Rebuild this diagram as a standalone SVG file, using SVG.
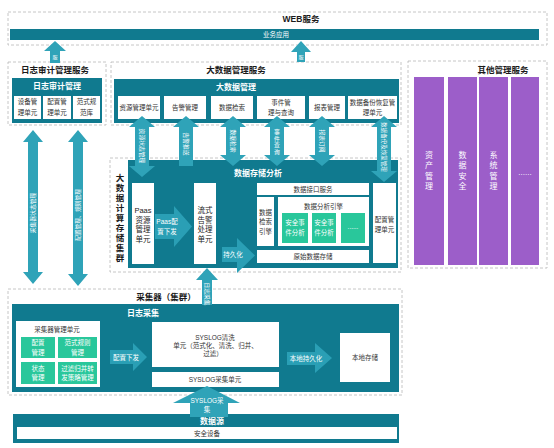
<svg xmlns="http://www.w3.org/2000/svg" width="554" height="448" viewBox="0 0 554 448">
<style>
text{font-family:"Liberation Sans","Noto Sans CJK SC",sans-serif;text-anchor:middle;dominant-baseline:central}
.dash{fill:#fff;stroke:#b8b8b8;stroke-width:0.8;stroke-dasharray:3,2}
.teal{fill:#107a8f}
.wb{fill:#fff}
.grn{fill:#29c79b}
.pur{fill:#9c5ec9}
.arr{fill:#2fa3b8}
.arr2{fill:#2a9fb5}
.ttl{font-size:8.5px;font-weight:bold;fill:#1a1a1a}
.wt{font-size:8px;font-weight:bold;fill:#fff}
.t{font-size:6.5px;fill:#333}
.tw{font-size:6.5px;fill:#fff}
.ta{font-size:5.8px;fill:#fff}
.tv{font-size:7.5px;fill:#222}
.pv{font-size:8px;fill:#fff}
</style>
<rect width="554" height="448" fill="#fff"/>

<g id="web">
<rect class="dash" x="8" y="12" width="539" height="33"/>
<text class="ttl" x="301" y="19">WEB服务</text>
<rect class="teal" x="10" y="29" width="529" height="11"/>
<text class="tw" x="276" y="34.5">业务应用</text>
</g>

<g id="logaudit">
<rect class="dash" x="8" y="62" width="98" height="63"/>
<text class="ttl" x="55" y="70">日志审计管理服务</text>
<rect class="teal" x="12" y="78" width="90" height="45"/>
<text class="wt" x="57" y="86">日志审计管理</text>
<rect class="wb" x="14" y="96" width="27" height="23"/>
<text class="t" x="27.5" y="101.5">设备管</text><text class="t" x="27.5" y="112">理单元</text>
<rect class="wb" x="43" y="96" width="28" height="23"/>
<text class="t" x="57" y="101.5">配置管</text><text class="t" x="57" y="112">理单元</text>
<rect class="wb" x="73" y="96" width="27" height="23"/>
<text class="t" x="86.5" y="101.5">范式规</text><text class="t" x="86.5" y="112">范库</text>
</g>

<g id="bigdata-mgmt">
<rect class="dash" x="111" y="62" width="290" height="63"/>
<text class="ttl" x="236" y="70">大数据管理服务</text>
<rect class="teal" x="114" y="79" width="285" height="44"/>
<text class="wt" x="236" y="87">大数据管理</text>
<rect class="wb" x="118" y="96" width="42" height="23"/>
<text class="t" x="139" y="107.5">资源管理单元</text>
<rect class="wb" x="164" y="96" width="42" height="23"/>
<text class="t" x="185" y="107.5">告警管理</text>
<rect class="wb" x="211" y="96" width="42" height="23"/>
<text class="t" x="232" y="107.5">数据检索</text>
<rect class="wb" x="257" y="96" width="48" height="23"/>
<text class="t" x="281" y="102">事件管</text><text class="t" x="281" y="112.5">理与查询</text>
<rect class="wb" x="309" y="96" width="36" height="23"/>
<text class="t" x="327" y="107.5">报表管理</text>
<rect class="wb" x="348" y="96" width="49" height="23"/>
<text class="t" x="372.5" y="102">数据备份恢复管</text><text class="t" x="372.5" y="112.5">理单元</text>
</g>

<g id="other-mgmt">
<rect class="dash" x="408" y="61" width="139" height="207"/>
<text class="ttl" x="503" y="70">其他管理服务</text>
<rect class="pur" x="414" y="77" width="30" height="188"/>
<rect class="pur" x="448" y="77" width="29" height="188"/>
<rect class="pur" x="479" y="77" width="29" height="188"/>
<rect class="pur" x="511" y="77" width="28" height="188"/>
<text class="pv" x="429" y="155">资</text><text class="pv" x="429" y="165.5">产</text><text class="pv" x="429" y="176">管</text><text class="pv" x="429" y="186.5">理</text>
<text class="pv" x="462.5" y="155">数</text><text class="pv" x="462.5" y="165.5">据</text><text class="pv" x="462.5" y="176">安</text><text class="pv" x="462.5" y="186.5">全</text>
<text class="pv" x="493.5" y="155">系</text><text class="pv" x="493.5" y="165.5">统</text><text class="pv" x="493.5" y="176">管</text><text class="pv" x="493.5" y="186.5">理</text>
<text class="pv" x="525" y="172">......</text>
</g>

<g id="cluster">
<rect class="dash" x="110" y="158" width="291" height="114"/>
<g class="ttl">
<text x="120" y="178">大</text><text x="120" y="188">数</text><text x="120" y="198">据</text><text x="120" y="208">计</text><text x="120" y="218">算</text><text x="120" y="228">存</text><text x="120" y="238">储</text><text x="120" y="248">集</text><text x="120" y="258">群</text>
</g>
<rect class="teal" x="128" y="160" width="270" height="108"/>
<text class="wt" x="258" y="173">数据存储分析</text>
</g>

<g id="paas">
<rect class="wb" x="132" y="183" width="22" height="81"/>
<text class="tv" x="143" y="210">Paas</text><text class="tv" x="143" y="220">资源</text><text class="tv" x="143" y="229.5">管理</text><text class="tv" x="143" y="239">单元</text>
</g>
<g id="stream">
<rect class="wb" x="194" y="183" width="22" height="81"/>
<text class="tv" x="205" y="210">流式</text><text class="tv" x="205" y="220">告警</text><text class="tv" x="205" y="229.5">处理</text><text class="tv" x="205" y="239">单元</text>
</g>
<g id="api">
<rect class="wb" x="257" y="183" width="112" height="12"/>
<text class="t" x="313" y="189">数据接口服务</text>
</g>
<g id="search-engine">
<rect class="wb" x="257" y="197" width="17" height="49"/>
<text class="t" x="265.5" y="212">数据</text><text class="t" x="265.5" y="221.5">检索</text><text class="t" x="265.5" y="231">引擎</text>
</g>
<g id="analysis-engine">
<rect class="wb" x="278" y="197" width="91" height="49"/>
<text class="t" x="323.5" y="206">数据分析引擎</text>
<rect class="grn" x="282" y="213" width="26" height="30"/>
<text class="tw" x="295" y="222.5">安全事</text><text class="tw" x="295" y="232">件分析</text>
<rect class="grn" x="312" y="213" width="24" height="30"/>
<text class="tw" x="324" y="222.5">安全事</text><text class="tw" x="324" y="232">件分析</text>
<rect class="grn" x="341" y="213" width="24" height="30"/>
<text class="tw" x="353" y="226">......</text>
</g>
<g id="raw-storage">
<rect class="wb" x="257" y="250" width="112" height="13"/>
<text class="t" x="313" y="256.5">原始数据存储</text>
</g>
<g id="config-unit">
<rect class="wb" x="373" y="183" width="23" height="80"/>
<text class="t" x="384.5" y="219">配置管</text><text class="t" x="384.5" y="229">理单元</text>
</g>

<g id="collector">
<rect class="dash" x="8" y="289" width="394" height="106"/>
<text class="ttl" x="166" y="297">采集器（集群）</text>
<rect class="teal" x="12" y="304" width="387" height="88"/>
<text class="wt" x="143" y="313">日志采集</text>
</g>
<g id="collector-mgmt">
<rect class="wb" x="16" y="321" width="84" height="66"/>
<text class="t" x="57" y="329">采集器管理单元</text>
<rect class="grn" x="21" y="337" width="34" height="21"/>
<text class="tw" x="38" y="342">配置</text><text class="tw" x="38" y="352">管理</text>
<rect class="grn" x="58" y="337" width="39" height="21"/>
<text class="tw" x="77.5" y="342">范式规则</text><text class="tw" x="77.5" y="352">管理</text>
<rect class="grn" x="21" y="362" width="34" height="22"/>
<text class="tw" x="38" y="368">状态</text><text class="tw" x="38" y="377.5">管理</text>
<rect class="grn" x="58" y="362" width="39" height="22"/>
<text class="tw" x="77.5" y="368">过滤归并转</text><text class="tw" x="77.5" y="377.5">发策略管理</text>
</g>
<g id="syslog-clean">
<rect class="wb" x="152" y="322" width="127" height="45"/>
<text class="t" x="215" y="337">SYSLOG清洗</text>
<text class="t" x="215.5" y="345.3">单元（范式化、清洗、归并、</text>
<text class="t" x="213" y="353.5">过滤）</text>
</g>
<g id="syslog-collect">
<rect class="wb" x="152" y="372" width="127" height="15"/>
<text class="t" x="215" y="379.5">SYSLOG采集单元</text>
</g>
<g id="local-storage">
<rect class="wb" x="340" y="333" width="50" height="49"/>
<text class="t" x="365" y="357.5">本地存储</text>
</g>

<g id="datasource">
<rect class="teal" x="13" y="414" width="386" height="29"/>
<text class="wt" x="212" y="421.5">数据源</text>
<rect class="wb" x="17" y="427" width="380" height="12"/>
<text class="t" x="207" y="433">安全设备</text>
</g>

<g id="connectors">
<!-- up to web -->
<polygon class="arr" points="55,41 66,51 60,51 60,63 50,63 50,51 44,51"/>
<text class="ta" x="55" y="57" style="font-size:5px">服</text>
<polygon class="arr" points="301,41 311,52 305,52 305,62 297,62 297,52 291,52"/>
<text class="ta" x="301" y="57" style="font-size:5px">服</text>

<!-- big data mgmt <-> storage analysis -->
<polygon class="arr" points="142,116 155,127 149,127 149,166 155,166 142,177 129,166 135,166 135,127 129,127"/>
<text class="ta" transform="rotate(90 142 146)" x="142" y="146">资源状态管理</text>
<polygon class="arr" points="186,116 199,127 193,127 193,166 179,166 179,127 173,127"/>
<text class="ta" transform="rotate(90 186 144)" x="186" y="144">告警推送</text>
<polygon class="arr" points="233,116 246,127 240,127 240,155 246,155 233,166 220,155 226,155 226,127 220,127"/>
<text class="ta" transform="rotate(90 233 141)" x="233" y="141">数据检索</text>
<polygon class="arr" points="277,116 290,127 284,127 284,155 290,155 277,166 264,155 270,155 270,127 264,127"/>
<text class="ta" x="277" y="132">事</text><text class="ta" x="277" y="138.5">件</text><text class="ta" x="277" y="145">查</text><text class="ta" x="277" y="151.5">询</text>
<polygon class="arr" points="322,116 335,127 329,127 329,155 335,155 322,166 309,155 315,155 315,127 309,127"/>
<text class="ta" transform="rotate(90 322 141)" x="322" y="141">报表订阅</text>
<polygon class="arr" points="384,116 397,127 391,127 391,171 397,171 384,182 371,171 377,171 377,127 371,127"/>
<text class="ta" transform="rotate(90 384 147)" x="384" y="147" style="font-size:5.5px">数据备份及恢复管理</text>

<!-- inside storage analysis -->
<polygon class="arr2" points="155,214 174,214 174,206 192,226.5 174,247 174,239 155,239"/>
<text class="tw" x="167" y="221.5">Paas配</text><text class="tw" x="167" y="231.5">置下发</text>
<polygon class="arr2" points="222,247 237,247 237,238 255,255.5 237,273 237,262 222,262"/>
<text class="tw" x="233" y="254.5">持久化</text>

<!-- log audit <-> collector -->
<polygon class="arr" points="33,130 43,142 38,142 38,272 43,272 33,284 23,272 28,272 28,142 23,142"/>
<text class="ta" transform="rotate(-90 33 213)" x="33" y="213">采集器状态管理</text>
<polygon class="arr" points="78,130 88,142 83,142 83,274 88,274 78,286 68,274 73,274 73,142 68,142"/>
<text class="ta" transform="rotate(-90 78 215)" x="78" y="215">配置管理、规则管理</text>

<!-- collector up to storage -->
<polygon class="arr" points="207,268 218,280 212,280 212,305 202,305 202,280 196,280"/>
<text class="ta" transform="rotate(90 207 294)" x="207" y="294">日志采集</text>

<!-- inside collector -->
<polygon class="arr2" points="110,350 133,350 133,343 147,357 133,371 133,364 110,364"/>
<text class="tw" x="126" y="357">配置下发</text>
<polygon class="arr2" points="287,352 315,352 315,343 332,358 315,373 315,365 287,365"/>
<text class="tw" x="306" y="358">本地持久化</text>

<!-- datasource up -->
<polygon class="arr" points="207,386 240,403 228,403 228,417 190,417 190,403 173,403"/>
<text class="tw" x="207" y="400">SYSLOG采</text><text class="tw" x="207" y="409">集</text>
</g>
</svg>
